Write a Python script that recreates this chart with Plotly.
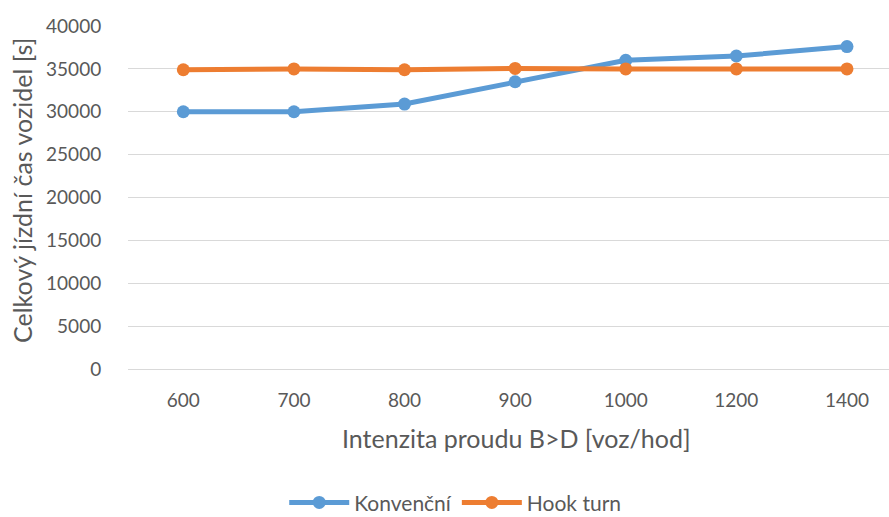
import plotly.graph_objects as go

categories = ["600", "700", "800", "900", "1000", "1200", "1400"]
konvencni = [30000, 30000, 30900, 33500, 36000, 36500, 37600]
hook_turn = [34900, 35000, 34900, 35050, 35000, 35000, 35000]
y_ticks = [0, 5000, 10000, 15000, 20000, 25000, 30000, 35000, 40000]
y_tick_labels = [str(v) for v in y_ticks]

FONT = "Lato"
GREY = "#595959"

fig = go.Figure()
fig.add_trace(go.Scatter(x=categories, y=konvencni, name="Konvenční", mode="lines+markers",
                         line=dict(color="#5B9BD5", width=5), marker=dict(size=13, color="#5B9BD5")))
fig.add_trace(go.Scatter(x=categories, y=hook_turn, name="Hook turn", mode="lines+markers",
                         line=dict(color="#ED7D31", width=5), marker=dict(size=13, color="#ED7D31")))

fig.update_layout(
    width=889, height=517,
    margin=dict(l=128, r=0, t=26, b=148, autoexpand=False),
    paper_bgcolor="white", plot_bgcolor="white",
    font=dict(family=FONT, color=GREY, size=16),
    showlegend=True,
    legend=dict(orientation="h", x=0.43, y=-0.39, xanchor="center", yanchor="middle",
                font=dict(size=21, color=GREY), itemwidth=60),
    xaxis=dict(type="category", range=[-0.5, 6.38], showgrid=False, showline=False, zeroline=False,
               ticks="outside", ticklen=14, tickcolor="rgba(0,0,0,0)",
               tickfont=dict(size=19, color=GREY)),
    yaxis=dict(range=[0, 40000], tickvals=y_ticks, ticktext=y_tick_labels,
               showgrid=True, gridcolor="#D9D9D9", gridwidth=1,
               zeroline=True, zerolinecolor="#D9D9D9", zerolinewidth=1, showline=False,
               ticks="outside", ticklen=22, tickcolor="rgba(0,0,0,0)",
               tickfont=dict(size=19, color=GREY)),
    annotations=[
        dict(text="Celkový jízdní čas vozidel [s]", xref="paper", yref="paper", x=-0.1393, y=0.522,
             xanchor="center", yanchor="middle", textangle=-90, showarrow=False,
             font=dict(size=25, color=GREY)),
        dict(text="Intenzita proudu B>D [voz/hod]", xref="paper", yref="paper", x=0.511, y=-0.201,
             xanchor="center", yanchor="middle", showarrow=False,
             font=dict(size=25, color=GREY)),
    ],
)

fig.write_html("out.html")
